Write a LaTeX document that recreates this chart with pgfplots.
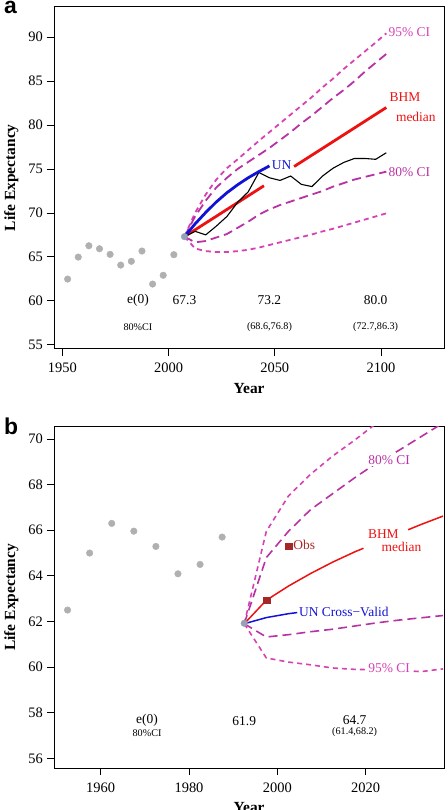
\documentclass[border=0pt]{standalone}
\usepackage{fontspec}
\setmainfont{Liberation Serif}
\newfontfamily\panelfont{Liberation Sans}
\usepackage{pgfplots}
\pgfplotsset{compat=1.18}

\definecolor{ciA}{RGB}{214,66,178}
\definecolor{ciB}{RGB}{184,50,164}
\definecolor{ptgray}{RGB}{176,176,176}
\definecolor{startpt}{RGB}{150,162,180}
\definecolor{myred}{RGB}{236,18,18}
\definecolor{myblue}{RGB}{18,18,215}
\definecolor{obsred}{RGB}{165,40,40}

\pgfplotsset{
  myaxis/.style={
    scale only axis, width=390.3bp,
    axis line style={line width=0.8bp},
    tick align=outside, xtick pos=left, ytick pos=left,
    major tick length=7bp,
    tick style={black, line width=0.8bp},
    /pgf/number format/assume math mode=true,
    /pgf/number format/1000 sep={},
    ticklabel style={font=\fontsize{14.5}{16}\selectfont},
    xticklabel style={anchor=base, inner sep=0pt, yshift=-17bp},
    yticklabel style={anchor=east, inner sep=0pt, xshift=-4bp},
    xlabel style={font=\bfseries\fontsize{15.5}{17}\selectfont, anchor=base},
    ylabel style={font=\bfseries\fontsize{15.5}{17}\selectfont, anchor=base},
    ylabel={Life Expectancy}, xlabel={Year},
    clip=true,
  },
  gp/.style={only marks, mark=*, mark size=3.3bp, color=ptgray},
  sp/.style={only marks, mark=*, mark size=3.3bp, color=startpt},
  c95/.style={ciA, line width=1.8bp, dash pattern=on 5bp off 4bp},
  c80/.style={ciB, line width=1.8bp, dash pattern=on 9bp off 5bp},
}

\newcommand{\lab}{\fontsize{13.5}{15}\selectfont}
\newcommand{\sml}{\fontsize{10.2}{12}\selectfont}

\begin{document}
\begin{tikzpicture}
\useasboundingbox (0,0) rectangle (448bp,810bp);

% ---------------- panel a ----------------
\begin{axis}[myaxis, at={(54bp,461.3bp)}, anchor=south west, height=342bp,
  xmin=1946.09, xmax=2129.8, ymin=54.54, ymax=93.48,
  xtick={1950,2000,2050,2100}, ytick={55,60,65,70,75,80,85,90},
  xlabel style={at={(axis description cs:0.5,-0.1316)}},
  ylabel style={at={(axis description cs:-0.0994,0.5)}}]
\addplot[gp] coordinates {(1952.5,62.47)(1957.5,64.97)(1962.5,66.26)(1967.5,65.92)(1972.5,65.28)(1977.5,64.06)(1982.5,64.49)(1987.5,65.66)(1992.5,61.9)(1997.5,62.9)(2002.5,65.24)};
\addplot[sp] coordinates {(2007.5,67.3)};
\addplot[c95] coordinates {(2007.5,67.3)(2012.5,70.0)(2017.5,72.1)(2022.5,73.8)(2027.5,75.1)(2032.5,76.1)(2037.5,77.15)(2042.5,78.2)(2047.5,79.2)(2052.5,80.2)(2057.5,81.2)(2062.5,82.2)(2067.5,83.2)(2072.5,84.3)(2077.5,85.3)(2082.5,86.4)(2087.5,87.4)(2092.5,88.4)(2097.5,89.4)(2102.5,90.45)};
\addplot[c80] coordinates {(2007.5,67.3)(2012.5,69.6)(2017.5,71.4)(2022.5,72.9)(2027.5,74.0)(2032.5,75.0)(2037.5,75.8)(2042.5,76.6)(2047.5,77.4)(2052.5,78.3)(2057.5,79.2)(2062.5,80.2)(2067.5,81.1)(2072.5,82.1)(2077.5,83.1)(2082.5,84.0)(2087.5,85.0)(2092.5,86.1)(2097.5,87.1)(2102.5,88.1)};
\addplot[c80] coordinates {(2007.5,67.3)(2012.5,66.65)(2017.5,66.8)(2022.5,67.2)(2027.5,67.6)(2032.5,68.3)(2037.5,69.0)(2042.5,69.8)(2047.5,70.4)(2052.5,70.9)(2057.5,71.3)(2062.5,71.7)(2067.5,72.1)(2072.5,72.5)(2077.5,73.0)(2082.5,73.4)(2087.5,73.8)(2092.5,74.1)(2097.5,74.4)(2102.5,74.7)};
\addplot[c95] coordinates {(2007.5,67.3)(2012.5,65.95)(2017.5,65.65)(2022.5,65.55)(2027.5,65.55)(2032.5,65.65)(2037.5,65.8)(2042.5,66.05)(2047.5,66.35)(2052.5,66.65)(2057.5,66.95)(2062.5,67.25)(2067.5,67.55)(2072.5,67.9)(2077.5,68.2)(2082.5,68.55)(2087.5,68.9)(2092.5,69.25)(2097.5,69.6)(2102.5,69.95)};
\addplot[myred, line width=2.8bp] coordinates {(2007.5,67.3)(2022.5,69.62)(2044.9,73.09)};
\addplot[myred, line width=2.8bp] coordinates {(2059.1,75.28)(2082.5,78.9)(2102.5,82.0)};
\addplot[black, line width=1.1bp] coordinates {(2007.5,67.3)(2012.5,67.9)(2017.5,67.5)(2022.5,68.5)(2027.5,69.6)(2032.5,71.2)(2037.5,72.4)(2042.5,74.6)(2047.5,74.0)(2052.5,73.7)(2057.5,74.2)(2062.5,73.25)(2067.5,73.0)(2072.5,74.2)(2077.5,75.1)(2082.5,75.75)(2087.5,76.2)(2092.5,76.2)(2097.5,76.1)(2102.5,76.85)};
\addplot[myblue, line width=2.8bp] coordinates {(2007.5,67.3)(2012.5,68.75)(2017.5,70.05)(2022.5,71.25)(2027.5,72.3)(2032.5,73.2)(2037.5,74.0)(2042.5,74.7)(2047.5,75.35)};
\node[anchor=west, inner sep=0pt, text=myblue, font=\lab] at (axis cs:2048.6,75.45) {UN};
\node[anchor=west, inner sep=0pt, text=ciA, font=\lab] at (axis cs:2103.5,90.6) {95\% CI};
\node[anchor=west, inner sep=0pt, text=ciB, font=\lab] at (axis cs:2103.5,74.7) {80\% CI};
\node[text=myred, font=\lab, inner sep=0pt] at (axis cs:2111.3,83.24) {BHM};
\node[text=myred, font=\lab, inner sep=0pt] at (axis cs:2116.4,80.96) {median};
\node[font=\lab] at (axis cs:1985.6,60.03) {e(0)};
\node[font=\lab] at (axis cs:2007.5,60.03) {67.3};
\node[font=\lab] at (axis cs:2047.5,60.03) {73.2};
\node[font=\lab] at (axis cs:2097.5,60.03) {80.0};
\node[font=\sml] at (axis cs:1985.6,56.98) {80\%CI};
\node[font=\sml] at (axis cs:2047.5,56.98) {(68.6,76.8)};
\node[font=\sml] at (axis cs:2097.5,56.98) {(72.7,86.3)};
\end{axis}

% ---------------- panel b ----------------
\begin{axis}[myaxis, at={(54bp,42bp)}, anchor=south west, height=341.3bp,
  xmin=1949.43, xmax=2037.8, ymin=55.575, ymax=70.54,
  xtick={1960,1980,2000,2020}, ytick={56,58,60,62,64,66,68,70},
  xlabel style={at={(axis description cs:0.5,-0.1318)}},
  ylabel style={at={(axis description cs:-0.0994,0.5)}}]
\addplot[gp] coordinates {(1952.5,62.5)(1957.5,65.0)(1962.5,66.3)(1967.5,65.96)(1972.5,65.29)(1977.5,64.09)(1982.5,64.5)(1987.5,65.7)};
\addplot[sp] coordinates {(1992.5,61.92)};
\addplot[c95, line width=1.6bp] coordinates {(1992.5,61.9)(1997.5,65.95)(2002.5,67.5)(2007.5,68.45)(2012.5,69.25)(2017.5,69.95)(2022.5,70.7)};
\addplot[c80, line width=1.6bp] coordinates {(1992.5,61.9)(1997.5,64.8)(2002.5,65.95)(2007.5,66.9)(2012.5,67.6)(2017.5,68.3)(2022.5,68.95)(2027.5,69.5)(2032.5,70.1)(2037.5,70.7)};
\addplot[c80, line width=1.6bp] coordinates {(1992.5,61.9)(1997.5,61.32)(2002.5,61.42)(2007.5,61.55)(2012.5,61.66)(2017.5,61.8)(2022.5,61.94)(2027.5,62.06)(2032.5,62.16)(2037.5,62.26)};
\addplot[c95, line width=1.6bp] coordinates {(1992.5,61.9)(1997.5,60.4)(2002.5,60.22)(2007.5,60.1)(2012.5,59.96)(2017.5,59.9)(2022.5,59.88)(2027.5,59.86)(2032.5,59.8)(2037.5,59.92)};
\addplot[myred, line width=1.5bp] coordinates {(1992.5,61.9)(1997.5,62.93)(2002.5,63.55)(2007.5,64.1)(2012.5,64.6)(2017.5,65.05)(2019.5,65.21)};
\addplot[myred, line width=1.5bp] coordinates {(2029.6,66.02)(2032.5,66.25)(2037.5,66.62)};
\addplot[myblue, line width=1.5bp] coordinates {(1992.5,61.9)(1997.5,62.17)(2002.5,62.34)(2004.5,62.39)};
\addplot[only marks, mark=square*, mark size=3.4bp, color=obsred] coordinates {(1997.5,62.93)(2002.5,65.3)};
\node[anchor=west, inner sep=0pt, text=obsred, font=\lab] at (axis cs:2003.6,65.34) {Obs};
\node[anchor=west, inner sep=0pt, text=myblue, font=\lab] at (axis cs:2004.9,62.41) {UN Cross−Valid};
\node[fill=white, inner xsep=1bp, inner ysep=1bp, text=ciB, font=\lab] at (axis cs:2025.3,69.08) {80\% CI};
\node[fill=white, inner xsep=2bp, inner ysep=1bp, text=ciA, font=\lab] at (axis cs:2025.3,59.95) {95\% CI};
\node[text=myred, font=\lab, inner sep=0pt] at (axis cs:2024.0,65.83) {BHM};
\node[text=myred, font=\lab, inner sep=0pt] at (axis cs:2028.1,65.28) {median};
\node[font=\lab] at (axis cs:1970.5,57.68) {e(0)};
\node[font=\lab] at (axis cs:1992.5,57.65) {61.9};
\node[font=\lab] at (axis cs:2017.5,57.68) {64.7};
\node[font=\sml] at (axis cs:1970.5,57.12) {80\%CI};
\node[font=\sml] at (axis cs:2017.5,57.13) {(61.4,68.2)};
\end{axis}

\node[anchor=base west, inner sep=0pt, font=\panelfont\bfseries\fontsize{23}{24}\selectfont] at (4bp,796bp) {a};
\node[anchor=base west, inner sep=0pt, font=\panelfont\bfseries\fontsize{23}{24}\selectfont] at (4bp,375bp) {b};
\end{tikzpicture}
\end{document}
